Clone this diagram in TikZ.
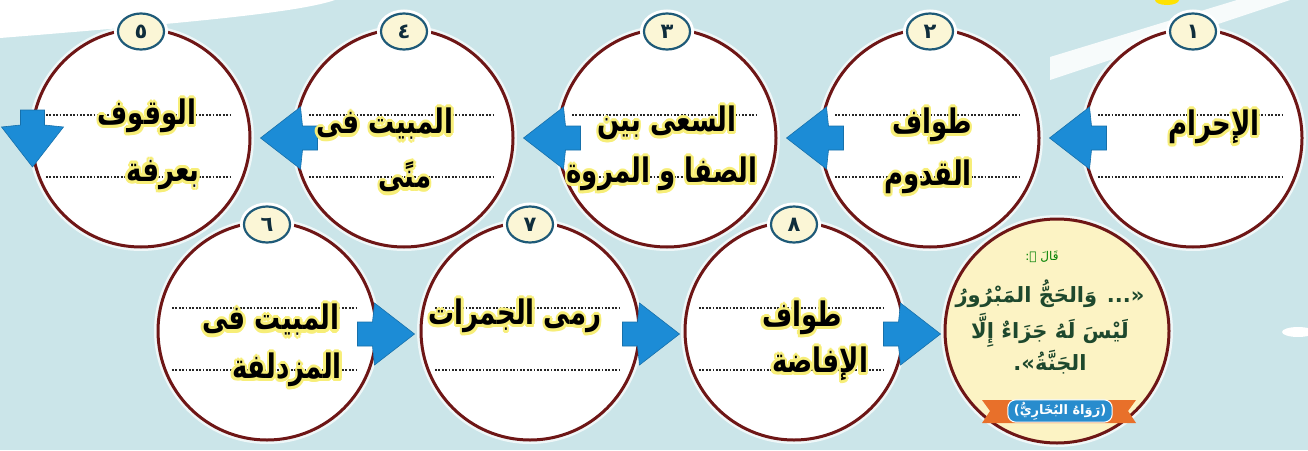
\documentclass[tikz,border=0pt]{standalone}
\usepackage{fontspec}
\usepackage{graphicx}
\usetikzlibrary{shapes.geometric,calc}
\TeXXeTstate=1
\newfontfamily\arabicfont[Script=Arabic]{DejaVu Sans}
\newfontfamily\latinsans{DejaVu Sans}
\definecolor{bgblue}{RGB}{203,229,233}
\definecolor{ringred}{RGB}{110,22,22}
\definecolor{arrowblue}{RGB}{28,140,214}
\definecolor{halo}{RGB}{247,238,120}
\definecolor{badgefill}{RGB}{251,246,214}
\definecolor{badgeline}{RGB}{30,90,120}
\definecolor{quotefill}{RGB}{252,243,196}
\definecolor{quotegreen}{RGB}{30,72,45}
\definecolor{ribbonorange}{RGB}{232,112,42}
\definecolor{labelblue}{RGB}{40,140,205}
\newsavebox\glowbox
\newsavebox\halobox
\newcommand\glowcp[2]{\rlap{\kern#1\raise#2\copy\halobox}}
\newcommand\glowtext[1]{\sbox\halobox{\color{halo}#1}\sbox\glowbox{\color{black}#1}%
  \scalebox{1}[1.3]{\leavevmode
  \glowcp{2.4pt}{0pt}\glowcp{2.08pt}{1.2pt}\glowcp{1.2pt}{2.08pt}\glowcp{0pt}{2.4pt}%
  \glowcp{-1.2pt}{2.08pt}\glowcp{-2.08pt}{1.2pt}\glowcp{-2.4pt}{0pt}\glowcp{-2.08pt}{-1.2pt}%
  \glowcp{-1.2pt}{-2.08pt}\glowcp{0pt}{-2.4pt}\glowcp{1.2pt}{-2.08pt}\glowcp{2.08pt}{-1.2pt}%
  \usebox\glowbox}}
\tikzset{
  stepcirc/.style={circle, draw=ringred, line width=3pt, fill=white, minimum size=218pt, inner sep=0pt,
    preaction={draw=white, line width=8pt, opacity=0.7}},
  quotecirc/.style={stepcirc, fill=quotefill, minimum size=224pt},
  badge/.style={ellipse, draw=badgeline, line width=2.2pt, fill=badgefill, minimum width=46pt, minimum height=36pt,
    inner sep=0pt, font=\arabicfont\bfseries\fontsize{21}{21}\selectfont, text=badgeline!50!black,
    preaction={draw=white, line width=8pt}},
  dotrule/.style={line width=1.8pt, black!85, dash pattern=on 1.8pt off 1.6pt},
  lbl/.style={inner sep=0pt, font=\arabicfont\bfseries\fontsize{26}{26}\selectfont},
  qtxt/.style={inner sep=0pt, text=quotegreen, font=\arabicfont\bfseries\fontsize{21}{21}\selectfont},
  blockarrow/.pic={\fill[arrowblue, draw=arrowblue!80!black, line width=0.6pt]
    (0,0) -- (40,-31) -- (42,-12) -- (57,-12) -- (57,12) -- (42,12) -- (40,31) -- cycle;}
}
\begin{document}
\begin{tikzpicture}[x=1pt,y=-1pt]
\useasboundingbox (0,0) rectangle (1308,450);
% background
\fill[bgblue] (0,0) rectangle (1308,450);
\fill[white] (0,0) -- (335,0) .. controls (300,12) and (200,22) .. (0,38) -- cycle;
\fill[white, opacity=0.85] (1050,57) -- (1237,0) -- (1290,0) -- (1050,80) -- cycle;
\fill[yellow!85!orange] (1167,0) ellipse (12 and 5);
\fill[white] (1298,332) ellipse (16 and 5);

% step circles, top row
\node[stepcirc] (s1) at (1193,138) {};
\node[stepcirc] (s2) at (930,138) {};
\node[stepcirc] (s3) at (667,138) {};
\node[stepcirc] (s4) at (404,138) {};
\node[stepcirc] (s5) at (141,138) {};
% bottom row
\node[stepcirc] (s6) at (267,331) {};
\node[stepcirc] (s7) at (530,331) {};
\node[stepcirc] (s8) at (794,331) {};
\node[quotecirc] (q) at (1057,331) {};

% dotted rules
\foreach \s in {s1,s2,s3,s4,s5,s6,s7,s8}{
  \draw[dotrule] ($(\s.center)+(-95,-23)$) -- ++(185,0);
  \draw[dotrule] ($(\s.center)+(-95,39)$) -- ++(185,0);
}

% number badges
\node[badge] (b1) at ($(s1.north)+(0,4)$) {١};
\node[badge] (b2) at ($(s2.north)+(0,4)$) {٢};
\node[badge] (b3) at ($(s3.north)+(0,4)$) {٣};
\node[badge] (b4) at ($(s4.north)+(0,4)$) {٤};
\node[badge] (b5) at ($(s5.north)+(0,4)$) {٥};
\node[badge] (b6) at ($(s6.north)+(0,4)$) {٦};
\node[badge] (b7) at ($(s7.north)+(0,4)$) {٧};
\node[badge] (b8) at ($(s8.north)+(0,4)$) {٨};

% arrows
\pic at ($(s1.west)+(-33,0)$) {blockarrow};
\pic at ($(s2.west)+(-33,0)$) {blockarrow};
\pic at ($(s3.west)+(-33,0)$) {blockarrow};
\pic at ($(s4.west)+(-33,0)$) {blockarrow};
\pic[rotate=90] at ($(s5.west)+(2,29)$) {blockarrow};
\pic[rotate=180] at ($(s7.west)+(-5,3)$) {blockarrow};
\pic[rotate=180] at ($(s8.west)+(-4,3)$) {blockarrow};
\pic[rotate=180] at ($(q.west)+(-3,3)$) {blockarrow};

% labels
\node[lbl] (l1a) at (1214,127) {\glowtext{\beginR الإحرام\endR}};
\node[lbl] (l2a) at (932,125) {\glowtext{\beginR طواف\endR}};
\node[lbl] (l2b) at (928,177) {\glowtext{\beginR القدوم\endR}};
\node[lbl] (l3a) at (667,123) {\glowtext{\beginR السعى بين\endR}};
\node[lbl] (l3b) at (662,174) {\glowtext{\beginR الصفا و المروة\endR}};
\node[lbl] (l4a) at (385,124) {\glowtext{\beginR المبيت فى\endR}};
\node[lbl] (l4b) at (405,177) {\glowtext{\beginR منًى\endR}};
\node[lbl] (l5a) at (147,116) {\glowtext{\beginR الوقوف\endR}};
\node[lbl] (l5b) at (163,175) {\glowtext{\beginR بعرفة\endR}};
\node[lbl] (l6a) at (271,320) {\glowtext{\beginR المبيت فى\endR}};
\node[lbl] (l6b) at (287,370) {\glowtext{\beginR المزدلفة\endR}};
\node[lbl] (l7a) at (515,316) {\glowtext{\beginR رمى الجمرات\endR}};
\node[lbl] (l8a) at (802,318) {\glowtext{\beginR طواف\endR}};
\node[lbl] (l8b) at (820,364) {\glowtext{\beginR الإفاضة\endR}};

% quote
\node[qtxt, font=\arabicfont\fontsize{12}{12}\selectfont, text=green!50!black] (qal) at (1042,257) {\beginR قَالَ ﷺ:\endR};
\node[qtxt] (q1) at (1050,294) {\beginR«... وَالحَجُّ المَبْرُورُ\endR};
\node[qtxt] (q2) at (1050,330) {\beginR لَيْسَ لَهُ جَزَاءٌ إِلَّا\endR};
\node[qtxt] (q3) at (1050,362) {\beginR الجَنَّةُ».\endR};
% ribbon
\fill[ribbonorange] (982,400) -- (1136,400) -- (1128,411) -- (1136,423) -- (982,423) -- (990,411) -- cycle;
\node[fill=labelblue, draw=white, line width=1pt, rounded corners=8pt, text=white, inner xsep=6pt, inner ysep=2pt,
  minimum height=21pt, font=\arabicfont\bfseries\fontsize{13}{13}\selectfont] (rw) at (1060,411)
  {{\latinsans\bfseries(}\beginR رَوَاهُ البُخَارِيُّ\endR{\latinsans\bfseries)}};
\end{tikzpicture}
\end{document}
